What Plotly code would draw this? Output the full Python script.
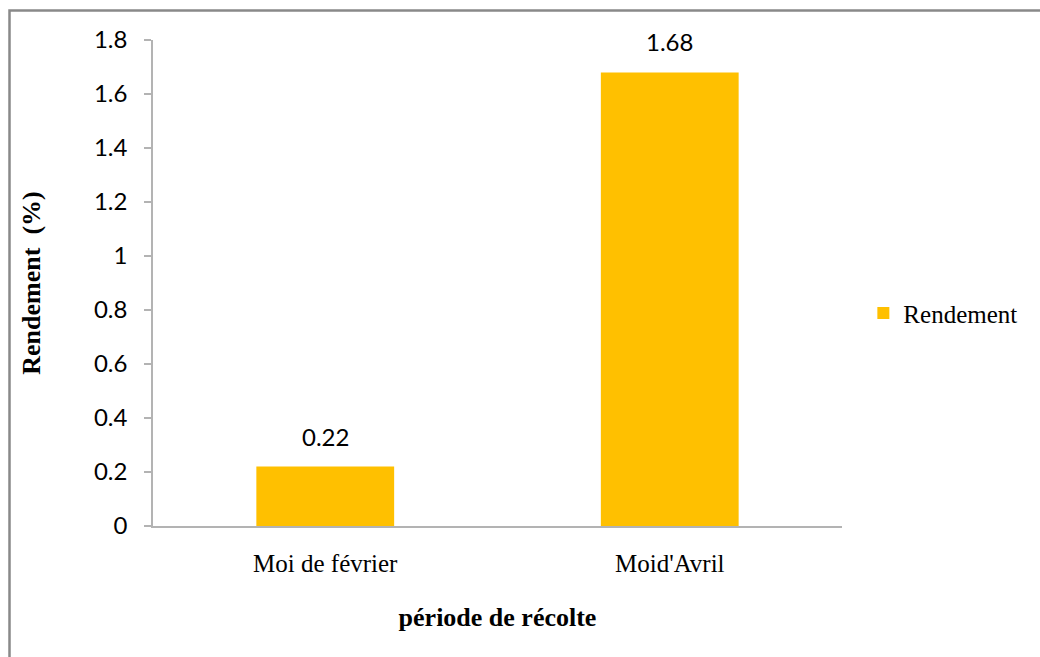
import plotly.graph_objects as go

# Harvest periods and extraction yield (%)
categories = ["Moi de février", "Moid'Avril"]
rendement = [0.22, 1.68]
y_ticks = [0, 0.2, 0.4, 0.6, 0.8, 1, 1.2, 1.4, 1.6, 1.8]
y_tick_labels = ["0", "0.2", "0.4", "0.6", "0.8", "1", "1.2", "1.4", "1.6", "1.8"]

BAR_COLOR = "#FFC000"
AXIS_COLOR = "#B3B3B3"
NUM_FONT = "Lato, 'Open Sans', sans-serif"
SERIF = "'Liberation Serif', 'Times New Roman', serif"

W, H = 1040, 657
L, R, T, B = 153, 198, 40, 131
pw, ph = W - L - R, H - T - B

fig = go.Figure()
fig.add_trace(go.Bar(
    x=categories,
    y=rendement,
    name="Rendement",
    marker=dict(color=BAR_COLOR, line=dict(width=0)),
    showlegend=True,
))

# value labels above each bar
for c, v in zip(categories, rendement):
    fig.add_annotation(
        x=c, y=v, text=f"{v:g}", showarrow=False,
        yanchor="bottom", yshift=14,
        font=dict(family=NUM_FONT, size=24, color="#000000"),
    )

# outer chart frame (runs past the right and bottom edges)
fig.add_shape(
    type="rect", xref="paper", yref="paper",
    x0=(9.5 - L) / pw, x1=(W + 20 - L) / pw,
    y0=(T + ph - (H + 20)) / ph, y1=(T + ph - 10.5) / ph,
    line=dict(color="#898989", width=2.5),
    fillcolor="rgba(0,0,0,0)", layer="below",
)

fig.update_layout(
    width=W, height=H,
    margin=dict(l=L, r=R, t=T, b=B, pad=0),
    paper_bgcolor="white", plot_bgcolor="white",
    bargap=0.6,
    showlegend=True,
    legend=dict(
        x=1.031, y=0.438, xanchor="left", yanchor="middle",
        font=dict(family=SERIF, size=25, color="#000000"),
        bgcolor="rgba(0,0,0,0)", borderwidth=0,
        itemwidth=30,
    ),
    xaxis=dict(
        showline=True, linecolor=AXIS_COLOR, linewidth=2,
        showgrid=False, ticks="", zeroline=False,
        tickfont=dict(family=SERIF, size=25, color="#000000"),
        ticklabelstandoff=14,
        title=dict(text="<b>période de récolte</b>",
                   font=dict(family=SERIF, size=26, color="#000000"),
                   standoff=32),
    ),
    yaxis=dict(
        range=[0, 1.8],
        tickvals=y_ticks, ticktext=y_tick_labels,
        showline=True, linecolor=AXIS_COLOR, linewidth=1.5,
        showgrid=False, zeroline=False,
        ticks="outside", ticklen=7, tickcolor=AXIS_COLOR, tickwidth=1.5,
        tickfont=dict(family=NUM_FONT, size=24, color="#000000"),
        ticklabelstandoff=12,
        title=dict(text="<b>Rendement&nbsp;&nbsp;(%)</b>",
                   font=dict(family=SERIF, size=26, color="#000000"),
                   standoff=46),
    ),
)

fig.write_html("out.html")
